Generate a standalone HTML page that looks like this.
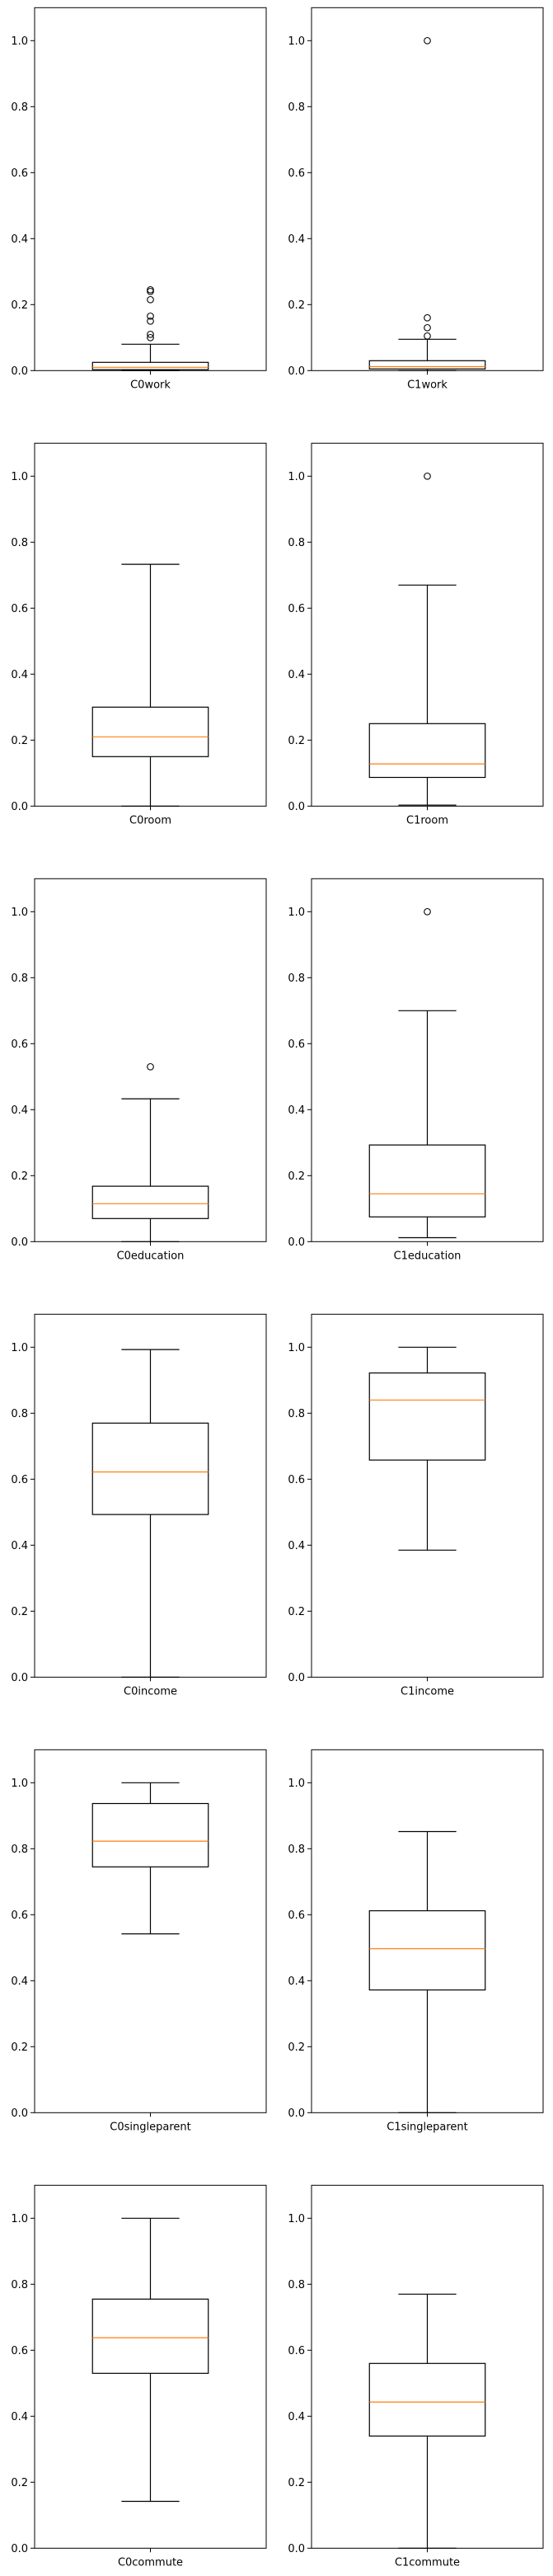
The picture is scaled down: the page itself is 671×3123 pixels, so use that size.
<!DOCTYPE html>
<html><head><meta charset="utf-8">
<style>
html,body{margin:0;padding:0;background:#fff;}
svg{display:block;}
text{font-family:"DejaVu Sans","Liberation Sans",sans-serif;font-size:13px;fill:#000;}
</style></head>
<body>
<svg id="chart" width="671" height="3123" viewBox="0 0 671 3123" xmlns="http://www.w3.org/2000/svg"></svg>
<script>
const labels = ["C0work","C1work","C0room","C1room","C0education","C1education","C0income","C1income","C0singleparent","C1singleparent","C0commute","C1commute"];
const whiskerLow  = [0,     0,     0,    0.003, 0,     0.012, 0,     0.385, 0.542, 0,     0.142, 0];
const q1Values    = [0.003, 0.005, 0.15, 0.087, 0.07,  0.075, 0.493, 0.658, 0.745, 0.372, 0.53,  0.34];
const medians     = [0.01,  0.012, 0.21, 0.128, 0.115, 0.145, 0.622, 0.84,  0.823, 0.497, 0.638, 0.443];
const q3Values    = [0.025, 0.03,  0.30, 0.25,  0.168, 0.293, 0.77,  0.922, 0.937, 0.612, 0.755, 0.56];
const whiskerHigh = [0.08,  0.095, 0.733,0.67,  0.433, 0.70,  0.993, 1.0,   1.0,   0.852, 1.0,   0.77];
const fliers = [[0.245,0.24,0.215,0.165,0.15,0.11,0.1],[0.16,0.13,0.105,1.0],[],[1.0],[0.53],[1.0],[],[],[],[],[],[]];
const yTicks = [0,0.2,0.4,0.6,0.8,1.0];
const yTickLabels = ["0.0","0.2","0.4","0.6","0.8","1.0"];

const NS="http://www.w3.org/2000/svg";
const svg=document.getElementById('chart');
function mk(tag,attrs,parent){const e=document.createElementNS(NS,tag);for(const k in attrs)e.setAttribute(k,attrs[k]);(parent||svg).appendChild(e);return e;}
const AX_W=281, AX_H=440, ROW0=9.3, PITCH=528, COLX=[42,378], YMAX=1.1;

labels.forEach((lab,i)=>{
  const row=Math.floor(i/2), col=i%2;
  const x0=COLX[col], y0=ROW0+row*PITCH;
  const ys=v=>y0+AX_H-(v/YMAX)*AX_H;
  const cx=x0+AX_W/2;
  const g=mk('g',{});
  
  
  // ticks
  yTicks.forEach((t,j)=>{
    const y=ys(t);
    const tl=mk('line',{x1:x0-5,x2:x0,y1:y,y2:y,stroke:'#000','stroke-width':1},g);
    
    
    const tx=mk('text',{x:x0-8,y:y+4.5,'text-anchor':'end'},g);
    
    
    tx.textContent=yTickLabels[j];
  });
  const xt=mk('line',{x1:cx,x2:cx,y1:y0+AX_H,y2:y0+AX_H+5,stroke:'#000','stroke-width':1},g);
  
  
  const xl=mk('text',{x:cx,y:y0+AX_H+21,'text-anchor':'middle'},g);
  
  
  xl.textContent=lab;
  // whiskers
  const bl=x0+AX_W*0.25, br=x0+AX_W*0.75, cl=x0+AX_W*0.375, cr=x0+AX_W*0.625;
  const w1=mk('line',{x1:cx,x2:cx,y1:ys(whiskerLow[i]),y2:ys(q1Values[i]),stroke:'#000','stroke-width':1.2},g);
  
  
  const w2=mk('line',{x1:cx,x2:cx,y1:ys(q3Values[i]),y2:ys(whiskerHigh[i]),stroke:'#000','stroke-width':1.2},g);
  
  
  const c1=mk('line',{x1:cl,x2:cr,y1:ys(whiskerLow[i]),y2:ys(whiskerLow[i]),stroke:'#000','stroke-width':1.2},g);
  
  
  const c2=mk('line',{x1:cl,x2:cr,y1:ys(whiskerHigh[i]),y2:ys(whiskerHigh[i]),stroke:'#000','stroke-width':1.2},g);
  
  
  const bx=mk('rect',{x:bl,y:ys(q3Values[i]),width:br-bl,height:ys(q1Values[i])-ys(q3Values[i]),fill:'none',stroke:'#000','stroke-width':1.2},g);
  
  
  const md=mk('line',{x1:bl,x2:br,y1:ys(medians[i]),y2:ys(medians[i]),stroke:'#ff7f0e','stroke-width':1.2},g);
  
  
  fliers[i].forEach(v=>{
    const c=mk('circle',{cx:cx,cy:ys(v),r:3.8,fill:'none',stroke:'#000','stroke-width':1.1},g);
    
    
  });
  const fr=mk('rect',{x:x0,y:y0,width:AX_W,height:AX_H,fill:'none',stroke:'#000','stroke-width':1},g);
  
  
});
</script>
</body></html>
